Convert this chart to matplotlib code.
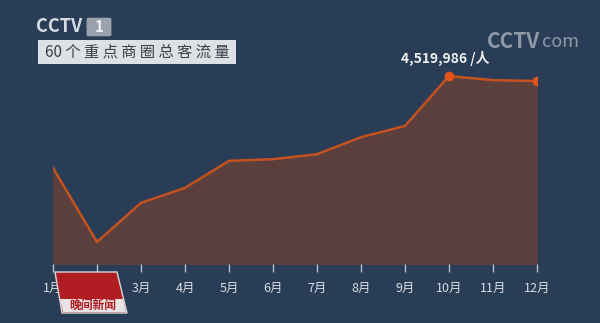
import matplotlib.pyplot as plt
from matplotlib.patches import FancyBboxPatch, Rectangle, Polygon

plt.rcParams['font.family'] = ['Noto Sans CJK SC', 'DejaVu Sans']

months = ['1月', '2月', '3月', '4月', '5月', '6月', '7月', '8月', '9月', '10月', '11月', '12月']
# monthly visitor flow (people)
flow = [2310000, 530000, 1470000, 1830000, 2480000, 2520000,
        2640000, 3050000, 3320000, 4519986, 4420000, 4400000]
peak_label = '4,519,986 /人'
title = '60个重点商圈总客流量'

bg = '#293d57'
fig = plt.figure(figsize=(6.0, 3.23), dpi=100)
fig.patch.set_facecolor(bg)

ax = fig.add_axes([53 / 600, 59 / 323, 484 / 600, 224 / 323])
ax.set_facecolor(bg)
x = list(range(len(months)))
ax.fill_between(x, flow, 0, color='#5a3f3d', zorder=1)
ax.plot(x, flow, color='#c4521f', linewidth=1.8, zorder=2)
ax.plot([x[9], x[11]], [flow[9], flow[11]], 'o', color='#e2541b', markersize=6, zorder=3)

ax.set_xlim(0, 11)
ax.set_ylim(0, 5386000)
for s in ax.spines.values():
    s.set_visible(False)
ax.set_yticks([])
ax.set_xticks(x)
ax.set_xticklabels(months, fontsize=9, color='#d8dde4')
ax.tick_params(axis='x', length=6, width=1, color='#b8c0cc', pad=7)

ax.annotate(peak_label, (x[9], flow[9]), xytext=(-3, 7), textcoords='offset points',
            ha='center', va='bottom', fontsize=10, color='#f0f0f0', fontweight='bold')

# title box
fig.patches.append(Rectangle((38 / 600, 1 - 64 / 323), 198 / 600, 24 / 323,
                             transform=fig.transFigure, facecolor='#dde1e6',
                             edgecolor='none', zorder=5))
fig.text(137 / 600, 1 - 52 / 323, ' '.join([title[:2]] + list(title[2:])),
         ha='center', va='center', fontsize=11, color='#3b4047', zorder=6)

# channel logo
fig.text(36 / 600, 1 - 27 / 323, 'CCTV', fontsize=13, fontweight='bold', color='#d6dbe2',
         ha='left', va='center', fontstyle='italic')
fig.patches.append(FancyBboxPatch((89 / 600, 1 - 35 / 323), 20 / 600, 16 / 323,
                                  boxstyle='round,pad=0.004', transform=fig.transFigure,
                                  facecolor='#9aa3ad', edgecolor='none', zorder=5))
fig.text(99 / 600, 1 - 27 / 323, '1', fontsize=11, fontweight='bold', color='#eef1f4',
         ha='center', va='center', zorder=6)

# watermark
fig.text(540 / 600, 1 - 41 / 323, 'CCTV', fontsize=15, fontweight='bold', color='#a9b1bb',
         ha='right', va='center', alpha=0.8)
fig.text(542 / 600, 1 - 42 / 323, 'com', fontsize=13, color='#a9b1bb',
         ha='left', va='center', alpha=0.8)

# news programme logo
fig.patches.append(Polygon([(55 / 600, 1 - 272 / 323), (117 / 600, 1 - 272 / 323),
                            (127 / 600, 1 - 313 / 323), (62 / 600, 1 - 313 / 323)],
                           closed=True, transform=fig.transFigure,
                           facecolor='#b01d22', edgecolor='#d9d9d9', linewidth=1, zorder=5))
fig.patches.append(Polygon([(60 / 600, 1 - 299 / 323), (123 / 600, 1 - 299 / 323),
                            (126 / 600, 1 - 312 / 323), (63 / 600, 1 - 312 / 323)],
                           closed=True, transform=fig.transFigure,
                           facecolor='#e9e3e3', edgecolor='none', zorder=6))
fig.text(93 / 600, 1 - 305 / 323, '晚间新闻', fontsize=8.5, fontweight='bold', color='#b01d22',
         ha='center', va='center', zorder=7)

fig.savefig('out.png', dpi=100, facecolor=bg)
